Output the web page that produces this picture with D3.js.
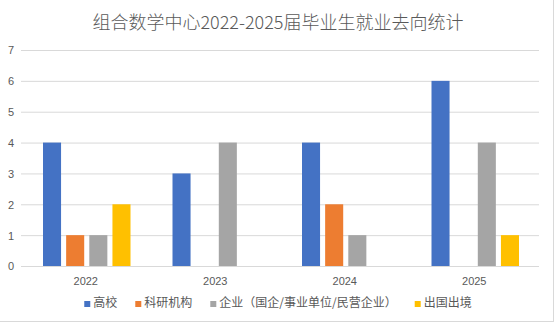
<!DOCTYPE html>
<html><head><meta charset="utf-8">
<script src="https://cdn.jsdelivr.net/npm/d3@7"></script>
<style>body{margin:0;background:#fff;}svg{display:block;font-family:"Noto Sans CJK SC","DejaVu Sans",sans-serif;}</style>
</head><body><svg id="c" width="556" height="324"></svg>
<script>
const title = "组合数学中心2022-2025届毕业生就业去向统计";
const categories = ["2022","2023","2024","2025"];
const seriesNames = ["高校","科研机构","企业（国企/事业单位/民营企业）","出国出境"];
const seriesColors = ["#4472C4","#ED7D31","#A5A5A5","#FFC000"];
const valsUniv = [4,3,4,6];
const valsResearch = [1,0,2,0];
const valsEnterprise = [1,4,1,4];
const valsAbroad = [2,0,0,1];
const yTicks = [0,1,2,3,4,5,6,7];
const seriesValues = [valsUniv, valsResearch, valsEnterprise, valsAbroad];

const svg = d3.select("#c");
const pLeft = 21, pRight = 539, pTop = 50, pBottom = 266;

svg.append("text").attr("x",278).attr("y",29).attr("text-anchor","middle")
  .attr("font-size",18).attr("font-weight",300).attr("fill","#595959").text(title);

const y = d3.scaleLinear().domain([0,7]).range([pBottom, pTop]);
const x0 = d3.scaleBand().domain(categories).range([pLeft,pRight]).padding(0);
const x1 = d3.scaleBand().domain(seriesNames).range([22, x0.bandwidth()-20]).paddingInner(0.22).paddingOuter(0);

// gridlines
svg.append("g").selectAll("line").data(yTicks).join("line")
  .attr("x1",pLeft).attr("x2",pRight).attr("y1",d=>y(d)+0.5).attr("y2",d=>y(d)+0.5)
  .attr("stroke","#d9d9d9").attr("stroke-width",1);

// y labels
const yAxis = d3.axisLeft(y).tickValues(yTicks).tickFormat(d3.format("d")).tickSize(0).tickPadding(0);
const gy = svg.append("g").attr("transform",`translate(14,0)`).call(yAxis);
gy.select(".domain").remove();
gy.selectAll("text").attr("font-size",11).attr("fill","#595959").attr("font-family","Liberation Sans, Arial, sans-serif").attr("dy","0.35em");

// bars
const groups = svg.append("g").selectAll("g").data(categories).join("g")
  .attr("transform",d=>`translate(${x0(d)},0)`);
groups.selectAll("rect").data((c,ci)=>seriesNames.map((s,si)=>({s,si,v:seriesValues[si][ci]}))).join("rect")
  .attr("x",d=>x1(d.s)).attr("width",x1.bandwidth())
  .attr("y",d=>y(d.v)).attr("height",d=>y(0)-y(d.v))
  .attr("fill",d=>seriesColors[d.si]);

// x labels
const xAxis = d3.axisBottom(x0).tickSize(0).tickPadding(0);
const gx = svg.append("g").attr("transform",`translate(0,${pBottom+11})`).call(xAxis);
gx.select(".domain").remove();
gx.selectAll("text").attr("font-size",11).attr("fill","#595959").attr("font-family","Liberation Sans, Arial, sans-serif");

// legend
const lg = svg.append("g");
let cx = 0;
seriesNames.forEach((s,i)=>{
  const g = lg.append("g");
  g.append("rect").attr("x",0).attr("y",-6).attr("width",6).attr("height",6).attr("fill",seriesColors[i]);
  const t = g.append("text").attr("x",9).attr("y",0).attr("font-size",12).attr("fill","#595959").text(s);
  const w = 9 + t.node().getComputedTextLength();
  g.attr("transform",`translate(${cx},0)`);
  cx += w + 18;
});
const total = cx - 18;
lg.attr("transform",`translate(${278 - total/2},${307})`);

// border
svg.append("line").attr("x1",553.5).attr("x2",553.5).attr("y1",0).attr("y2",322).attr("stroke","#d9d9d9");
svg.append("line").attr("x1",0).attr("x2",554).attr("y1",321.5).attr("y2",321.5).attr("stroke","#d9d9d9");
</script></body></html>
